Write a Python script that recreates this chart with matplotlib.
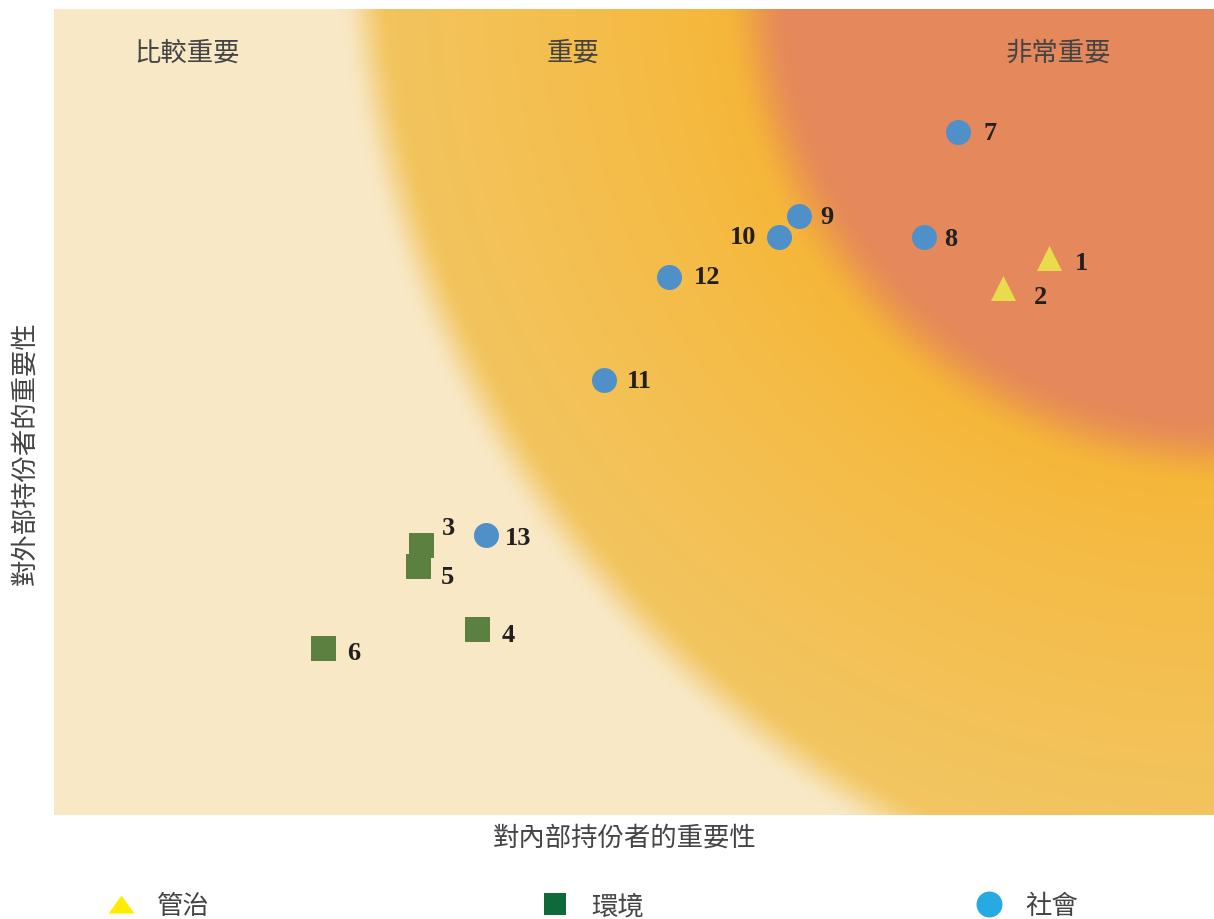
import numpy as np
import matplotlib
matplotlib.use('Agg')
import matplotlib.pyplot as plt
from matplotlib.lines import Line2D

plt.rcParams['font.family'] = ['Noto Sans CJK TC', 'DejaVu Sans']

# 議題 (編號, 類別, 對內部重要性, 對外部重要性)
issue_ids = ['1', '2', '3', '4', '5', '6', '7', '8', '9', '10', '11', '12', '13']
issue_cat = ['管治', '管治', '環境', '環境', '環境', '環境',
             '社會', '社會', '社會', '社會', '社會', '社會', '社會']
internal = [85.8, 81.8, 31.6, 36.5, 31.4, 23.2, 77.9, 75.0, 64.2, 62.5, 47.4, 53.0, 37.2]
external = [69.1, 65.4, 33.5, 23.1, 30.9, 20.7, 84.7, 71.7, 74.3, 71.7, 54.0, 66.8, 34.7]

zone_names = ['比較重要', '重要', '非常重要']
zone_x = [11.5, 44.7, 86.6]

# 標籤偏移 (像素)
label_offset = {'1': (32, -4), '2': (38, -9), '3': (28, 17), '4': (31, -6),
                '5': (29, -11), '6': (31, -4), '7': (32, 0), '8': (27, -1),
                '9': (28, 0), '10': (-36, 1), '11': (36, -1), '12': (38, 0),
                '13': (33, -2)}

cat_style = {
    '管治': dict(marker='^', color='#E8DC4C'),
    '環境': dict(marker='s', color='#5B8040'),
    '社會': dict(marker='o', color='#4F90C9'),
}

fig = plt.figure(figsize=(12.14, 9.2), dpi=100)
ax = fig.add_axes([54 / 1214, 1 - 816 / 920, 1160 / 1214, 806 / 920])

# 背景漸層
W, H = 1160, 806
cols, rows = np.meshgrid(np.arange(W) + 0.5, np.arange(H) + 0.5)

def smooth(v):
    v = np.clip(v, 0, 1)
    return v * v * (3 - 2 * v)

d1 = np.hypot(cols - 1341, rows + 96)
d2 = np.hypot(cols - 1175, rows + 30)
beige = np.array([248, 232, 197]) / 255
light_or = np.array([242, 199, 102]) / 255
sat_or = np.array([246, 181, 52]) / 255
red = np.array([229, 136, 91]) / 255

t = np.clip((d2 - 475) / 450, 0, 1)[..., None] ** 0.8
orange = sat_or * (1 - t) + light_or * t
s1 = smooth((d1 - (1035 - 25)) / 50)[..., None]
img = orange * (1 - s1) + beige * s1
s2 = 1 - smooth((d2 - (475 - 35)) / 70)[..., None]
img = img * (1 - s2) + red * s2
ax.imshow(img, extent=[0, 100, 0, 100], origin='upper', aspect='auto', zorder=0)

for i in range(len(issue_ids)):
    st = cat_style[issue_cat[i]]
    ax.scatter(internal[i], external[i], s=18 ** 2, marker=st['marker'],
               color=st['color'], linewidths=0, zorder=3)
    dx, dy = label_offset[issue_ids[i]]
    ax.annotate(issue_ids[i], (internal[i], external[i]), xytext=(dx, dy),
                textcoords='offset pixels', ha='center', va='center',
                fontsize=19, fontweight='bold', family='Liberation Serif',
                color='#231f20', zorder=4)

for name, x in zip(zone_names, zone_x):
    ax.text(x, 94.7, name, ha='center', va='center', fontsize=19,
            color='#444444', fontweight='light')

ax.set_xlim(0, 100)
ax.set_ylim(0, 100)
ax.set_xticks([])
ax.set_yticks([])
for sp in ax.spines.values():
    sp.set_visible(False)

fig.text(625 / 1214, 1 - 838 / 920, '對內部持份者的重要性', ha='center', va='center',
         fontsize=19, color='#444444', fontweight='light')
fig.text(25 / 1214, 1 - 453 / 920, '對外部持份者的重要性', ha='center', va='center',
         rotation=90, fontsize=19, color='#444444', fontweight='light')

# 圖例
flat_tri = [(-1, -0.7), (1, -0.7), (0, 0.7), (-1, -0.7)]
handles = [
    Line2D([], [], linestyle='none', marker=flat_tri, markersize=18.7,
           markerfacecolor='#FFEC00', markeredgewidth=0),
    Line2D([], [], linestyle='none', marker='s', markersize=16,
           markerfacecolor='#0E6A3A', markeredgewidth=0),
    Line2D([], [], linestyle='none', marker='o', markersize=18.7,
           markerfacecolor='#27A9E1', markeredgewidth=0),
]
leg = fig.legend(handles, ['管治', '環境', '社會'], ncol=3, frameon=False,
                 loc='center left', bbox_to_anchor=(108 / 1214, 1 - 907 / 920),
                 fontsize=19, handlelength=1.0, handletextpad=0.85,
                 columnspacing=12.6, borderpad=0, borderaxespad=0)
for txt in leg.get_texts():
    txt.set_color('#444444')
    txt.set_fontweight('light')

fig.savefig('out.png', dpi=100)
